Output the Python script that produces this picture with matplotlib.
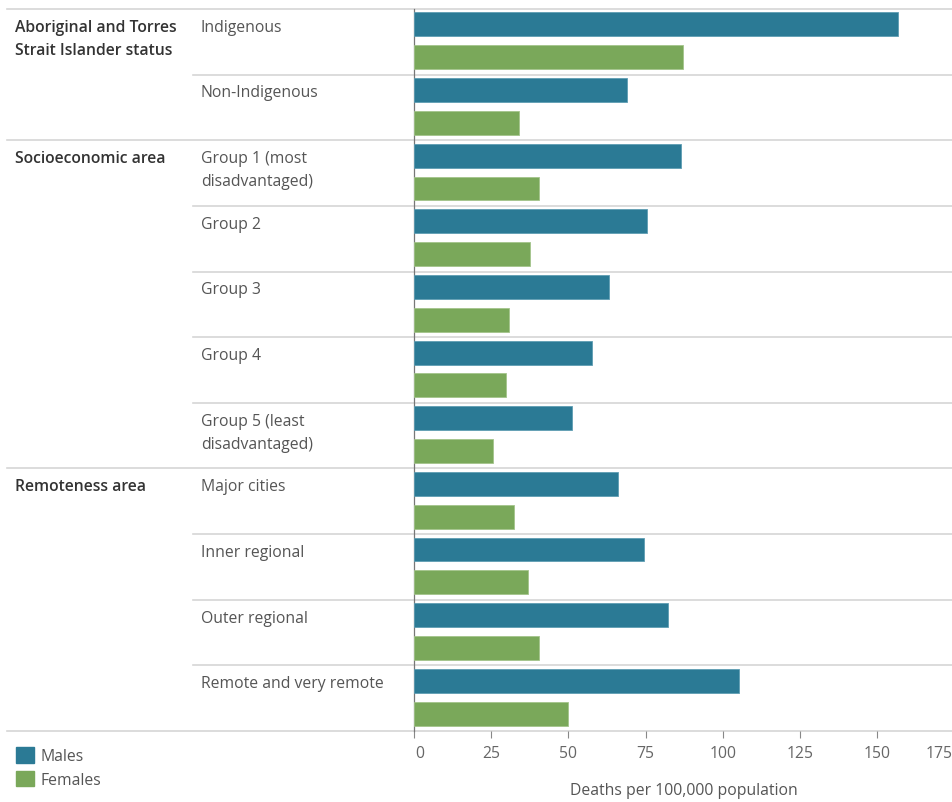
import matplotlib
matplotlib.use("Agg")
import matplotlib.pyplot as plt
import matplotlib.transforms as mtransforms
from matplotlib.patches import Patch

plt.rcParams['font.family'] = ['Open Sans', 'DejaVu Sans']

groups = ["Aboriginal and Torres\nStrait Islander status", "Socioeconomic area", "Remoteness area"]
group_sizes = [2, 5, 4]
categories = ["Indigenous", "Non-Indigenous",
              "Group 1 (most\ndisadvantaged)", "Group 2", "Group 3", "Group 4",
              "Group 5 (least\ndisadvantaged)",
              "Major cities", "Inner regional", "Outer regional", "Remote and very remote"]
males = [156.6, 68.9, 86.6, 75.6, 63.3, 57.8, 51.1, 66.2, 74.4, 82.4, 105.3]
females = [87.0, 34.2, 40.4, 37.7, 30.9, 29.8, 25.8, 32.6, 36.9, 40.4, 49.9]
xticks = [0, 25, 50, 75, 100, 125, 150, 175]
xlabel = "Deaths per 100,000 population"
series_names = ["Males", "Females"]

c_m = "#2b7a95"
c_f = "#7aa85a"
line_c = "#d6d6d6"
txt_dark = "#333333"
txt_mid = "#555555"
FS = 11.3

W, H = 952, 803
fig = plt.figure(figsize=(W / 100, H / 100), dpi=100)

top_px, bot_px = 10, 732
x0_px = 413.7
px_per_unit = 3.091
xmax = 175
right_px = x0_px + xmax * px_per_unit
ax = fig.add_axes([x0_px / W, 1 - bot_px / H, (right_px - x0_px) / W, (bot_px - top_px) / H])

n = len(categories)
ax.set_ylim(2 * n, 0)
ax.set_xlim(0, xmax)

bh = 0.73
ym = [2 * i + 0.47 for i in range(n)]
yf = [2 * i + 1.47 for i in range(n)]
ax.barh(ym, males, height=bh, color=c_m, edgecolor="#5f9db3", linewidth=0.6, zorder=3)
ax.barh(yf, females, height=bh, color=c_f, edgecolor="#a3c48b", linewidth=0.6, zorder=3)

for s in ["top", "right", "bottom"]:
    ax.spines[s].set_visible(False)
ax.spines["left"].set_color("#777777")
ax.spines["left"].set_linewidth(0.9)
ax.set_yticks([])
ax.set_xticks(xticks)
ax.set_xticklabels([str(t) for t in xticks])
ax.tick_params(axis="x", length=5, width=0.8, color="#888888", labelcolor="#666666",
               labelsize=FS, pad=5)
labels = ax.get_xticklabels()
labels[0].set_ha("left")
labels[0].set_transform(labels[0].get_transform() + mtransforms.ScaledTranslation(2 / 100, 0, fig.dpi_scale_trans))
labels[-1].set_ha("right")
labels[-1].set_transform(labels[-1].get_transform() + mtransforms.ScaledTranslation(-2 / 100, 0, fig.dpi_scale_trans))
ax.set_xlabel(xlabel, fontsize=FS, color="#555555", labelpad=15)

# separator lines
tr = mtransforms.blended_transform_factory(fig.transFigure, ax.transData)
group_starts = []
acc = 0
for g in group_sizes:
    group_starts.append(acc)
    acc += g
for i in range(n + 1):
    y = 2 * i
    if i in group_starts or i == n:
        xs = 7 / W
    else:
        xs = 193 / W
    ax.plot([xs, 1.0], [y, y], transform=tr, color=line_c, lw=1.2, clip_on=False, zorder=1)

# labels
for gi, g in enumerate(groups):
    r = group_starts[gi]
    ax.text(15 / W, 2 * r + 0.3, g, transform=tr, ha="left", va="top", fontsize=FS,
            color=txt_dark, fontweight="semibold", linespacing=1.6)
for i, c in enumerate(categories):
    ax.text(201 / W, 2 * i + 0.3, c, transform=tr, ha="left", va="top", fontsize=FS,
            color=txt_mid, linespacing=1.6)

handles = [Patch(facecolor=c_m, edgecolor=c_m), Patch(facecolor=c_f, edgecolor=c_f)]
leg = fig.legend(handles, series_names, loc="upper left", bbox_to_anchor=(16 / W, 1 - 748 / H),
                 frameon=False, fontsize=FS, handlelength=1.15, handleheight=1.15,
                 handletextpad=0.4, labelspacing=0.42, borderpad=0, borderaxespad=0)
for t in leg.get_texts():
    t.set_color(txt_mid)

fig.savefig("out.png", dpi=100)
